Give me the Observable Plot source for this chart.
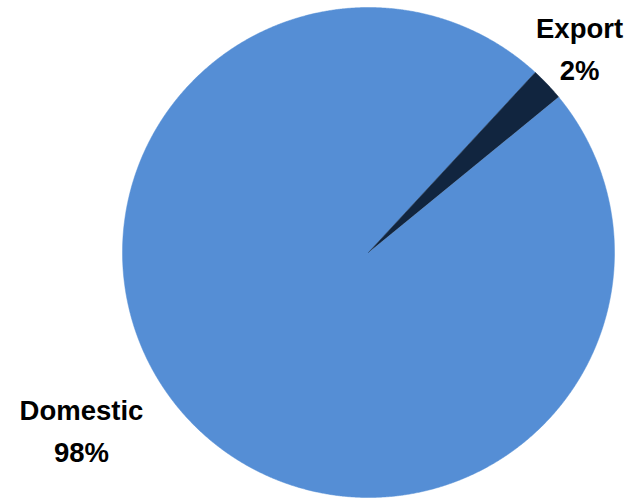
<!DOCTYPE html>
<html>
<head>
<meta charset="utf-8">
<script src="https://cdn.jsdelivr.net/npm/d3@7"></script>
<script src="https://cdn.jsdelivr.net/npm/@observablehq/plot@0.6"></script>
<style>
  html, body { margin: 0; padding: 0; background: #fff; }
  #chart { width: 630px; height: 499px; }
</style>
</head>
<body>
<div id="chart"></div>
<script>
// ---- data ----
const categories = ["Domestic", "Export"];
const shares = [97.8, 2.2];          // percent of total
const shareLabels = ["98%", "2%"];   // data-label text
const colors = ["#558ED5", "#11253F"];

// ---- layout (not data) ----
const firstSliceAngle = 50.6;        // degrees clockwise from 12 o'clock
const labelLayout = {
  Domestic: { x: -1.167, y: -0.715 },
  Export:   { x: 0.858,  y: 0.845 }
};

// build slice polygons from the values
const total = d3.sum(shares);
const slices = [];
let start = firstSliceAngle;
categories.forEach((name, i) => {
  const span = shares[i] / total * 360;
  const end = start + span;
  slices.push({ name, x: 0, y: 0 });
  const n = Math.max(2, Math.ceil(span / 0.25));
  for (let k = 0; k <= n; k++) {
    const a = (start + span * k / n) * Math.PI / 180;
    slices.push({ name, x: Math.sin(a), y: Math.cos(a) });
  }
  start = end;
});

const labels = categories.map((name, i) => ({
  name,
  text: name + "\n" + shareLabels[i],
  x: labelLayout[name].x,
  y: labelLayout[name].y
}));

const chart = Plot.plot({
  width: 630,
  height: 499,
  marginLeft: 122,
  marginRight: 16,
  marginTop: 7,
  marginBottom: 2,
  x: { domain: [-1, 1], axis: null },
  y: { domain: [-1, 1], axis: null },
  color: { domain: categories, range: colors },
  style: { background: "#fff", overflow: "visible" },
  marks: [
    Plot.line(slices, { x: "x", y: "y", z: "name", fill: "name", stroke: "name", strokeWidth: 0.5 }),
    Plot.text(labels, {
      x: "x", y: "y", text: "text",
      fontFamily: "Liberation Sans, Arial, sans-serif",
      fontWeight: "bold",
      fontSize: 27.5,
      lineHeight: 1.53,
      fill: "#000",
      textAnchor: "middle",
      lineAnchor: "middle"
    })
  ]
});
document.getElementById("chart").appendChild(chart);
</script>
</body>
</html>
